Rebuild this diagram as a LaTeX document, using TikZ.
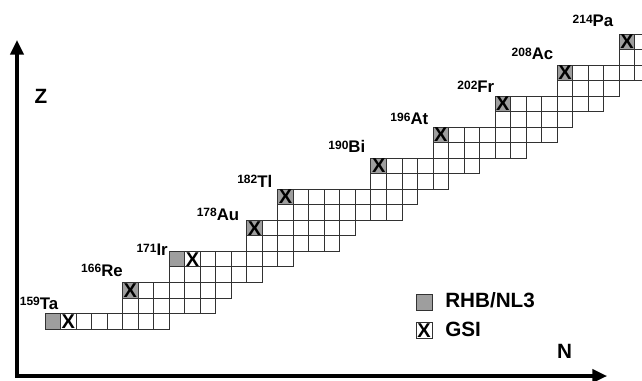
\documentclass[tikz,border=0pt]{standalone}
\usepackage{fontspec}
\setmainfont{Liberation Sans}
\usetikzlibrary{arrows.meta}
\definecolor{cellgray}{RGB}{158,158,158}
\definecolor{gridline}{RGB}{50,50,50}
\newcommand{\isotope}[2]{{\fontsize{9}{9}\selectfont\raisebox{2.6pt}{#1}}#2}
\tikzset{
  cell/.style={draw=gridline, line width=0.65pt},
  shaded/.style={fill=cellgray},
  xmark/.style={inner sep=0pt, font=\fontsize{15}{15}\selectfont\bfseries},
  lbl/.style={inner sep=0pt, anchor=base east, font=\fontsize{12.6}{12.6}\selectfont\bfseries},
  axislbl/.style={inner sep=0pt, font=\fontsize{15.5}{15.5}\selectfont\bfseries},
  legtext/.style={inner sep=0pt, anchor=base west, font=\fontsize{15.5}{15.5}\selectfont\bfseries},
  axis/.style={line width=2.3pt, line join=miter, {Triangle[length=11pt,width=10pt]}-{Triangle[length=11pt,width=10pt]}}
}
\begin{document}
\begin{tikzpicture}[x=0.75pt,y=-0.75pt]
\useasboundingbox (0,0) rectangle (642,381);
\begin{scope}
\clip (0,0) rectangle (642,381);
\begin{scope}[shift={(45,329)}, x=11.64pt, y=11.64pt]
  % shaded cells
  \foreach \c/\r in {0/0, 8/4, 5/2, 13/6, 15/8, 21/10, 25/12, 29/14, 33/16, 37/18}
    \fill[shaded] (\c,\r) rectangle ++(1,1);
  % grid rows
  \foreach \r/\a/\b in {0/0/7, 1/5/10, 2/5/11, 3/8/13, 4/8/15, 5/13/18, 6/13/19,
      7/15/22, 8/15/23, 9/21/25, 10/21/27, 11/25/30, 12/25/32, 13/29/33,
      14/29/35, 15/33/36, 16/33/39, 17/37/39, 18/37/39}
    \foreach \c in {\a,...,\b}
      \draw[cell] (\c,\r) rectangle ++(1,1);
  % GSI marks
  \node[xmark] (xta) at (1.5,0.5) {X};
  \node[xmark] (xre) at (5.5,2.5) {X};
  \node[xmark] (xir) at (9.5,4.5) {X};
  \node[xmark] (xau) at (13.5,6.5) {X};
  \node[xmark] (xtl) at (15.5,8.5) {X};
  \node[xmark] (xbi) at (21.5,10.5) {X};
  \node[xmark] (xat) at (25.5,12.5) {X};
  \node[xmark] (xfr) at (29.5,14.5) {X};
  \node[xmark] (xac) at (33.5,16.5) {X};
  \node[xmark] (xpa) at (37.5,18.5) {X};
\end{scope}
\end{scope}
% isotope labels
\node[lbl] (ta) at (58.5,309) {\isotope{159}{Ta}};
\node[lbl] (re) at (123,276) {\isotope{166}{Re}};
\node[lbl] (ir) at (168,255.5) {\isotope{171}{Ir}};
\node[lbl] (au) at (239.5,220) {\isotope{178}{Au}};
\node[lbl] (tl) at (272.5,187) {\isotope{182}{Tl}};
\node[lbl] (bi) at (365.5,153) {\isotope{190}{Bi}};
\node[lbl] (at) at (428.5,125) {\isotope{196}{At}};
\node[lbl] (fr) at (494.5,93) {\isotope{202}{Fr}};
\node[lbl] (ac) at (553.5,60) {\isotope{208}{Ac}};
\node[lbl] (pa) at (613.5,27) {\isotope{214}{Pa}};
% axes
\coordinate (ytip) at (17,40);
\coordinate (orig) at (17,376);
\coordinate (xtip) at (607,376);
\draw[axis] (ytip) -- (orig) -- (xtip);
\node[axislbl] (zl) at (41,96) {Z};
\node[axislbl] (nl) at (564.5,351.5) {N};
% legend
\fill[shaded] (416,294) rectangle (432,310);
\draw[cell] (416,294) rectangle (432,310);
\node[legtext] (rhb) at (445,307.5) {RHB/NL3};
\draw[cell] (416,322.5) rectangle (432,338.5);
\node[xmark] (legx) at (424,330.5) {X};
\node[legtext] (gsi) at (445,336) {GSI};
\end{tikzpicture}
\end{document}
